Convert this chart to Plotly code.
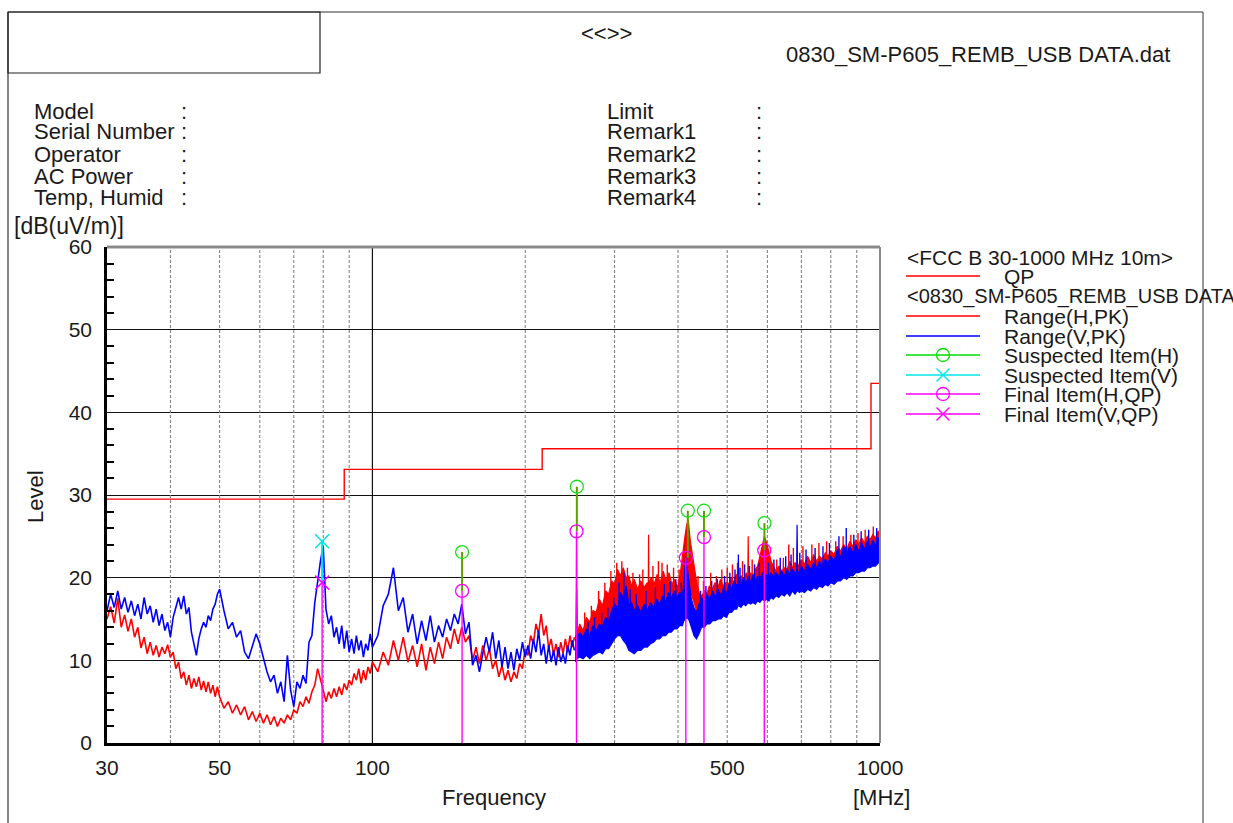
import math
import plotly.graph_objects as go

# ---------------- data ----------------
freq_lo = [30, 30.5, 31, 31.5, 32, 32.5, 33, 33.5, 34, 34.5, 35, 35.5, 36, 36.5, 37, 37.5, 38, 38.5, 39, 39.5,
           40, 40.5, 41, 41.5, 42, 42.5, 43, 43.5, 44, 44.5, 45, 45.5, 46, 46.5, 47, 47.5, 48, 48.5, 49, 49.5, 50,
           51, 52, 53, 54, 55, 56, 57, 58, 59, 60, 61, 62, 63, 64, 65, 66, 67, 68, 69, 70,
           71, 72, 73, 74, 75, 76, 77, 78, 79, 80, 81, 82, 83, 84, 85, 86, 87, 88, 89, 90,
           91, 92, 93, 94, 95, 96, 97, 98, 99, 100,
           102.5, 105, 107.5, 110, 112.5, 115, 117.5, 120, 122.5, 125, 127.5, 130, 132.5, 135, 137.5, 140,
           142.5, 145, 147.5, 150, 152.5, 155, 157.5, 160, 162.5, 165, 167.5, 170, 172.5, 175, 177.5, 180,
           182.5, 185, 187.5, 190, 192.5, 195, 197.5, 200, 202.5, 205, 207.5, 210, 212.5, 215, 217.5, 220,
           222.5, 225, 227.5, 230, 232.5, 235, 237.5, 240, 242.5, 245, 247.5, 250]

H_lo = [15.0, 16.5, 14.5, 17.5, 14.0, 15.5, 13.5, 15.0, 12.8, 14.0,
        11.5, 12.8, 10.8, 12.2, 10.6, 11.8, 10.4, 11.6, 10.8, 11.9,
        10.4, 11.0, 9.0, 9.8, 7.8, 8.6, 7.0, 8.2, 6.6, 7.8,
        6.8, 8.0, 6.4, 7.5, 6.2, 7.4, 6.0, 7.0, 5.6, 6.8,
        5.6,
        4.2, 5.0, 3.6, 4.6, 3.4, 4.4, 2.8, 3.8, 2.6, 3.6,
        2.4, 3.4, 2.2, 3.2, 2.0, 3.0, 2.4, 3.4, 2.8, 4.0,
        3.6, 5.0, 4.4, 5.6, 4.8, 6.2, 7.0, 9.0, 7.8, 6.4,
        5.0, 6.2, 5.4, 6.6, 5.6, 6.8, 5.8, 7.2, 6.4, 7.6,
        7.0, 8.4, 7.6, 9.0, 7.2, 8.8, 7.6, 9.2, 8.4, 9.8,
        8.6, 11.0, 9.4, 12.4, 10.0, 12.8, 9.8, 11.8, 9.2, 12.0,
        8.8, 11.6, 9.6, 12.2, 10.2, 12.8, 11.4, 13.8, 12.0, 14.0,
        12.2, 13.0, 10.0, 11.6, 9.6, 11.8, 10.0, 11.4, 9.0, 10.0,
        8.0, 9.4, 7.6, 8.8, 7.4, 8.6, 7.8, 9.6, 9.0, 11.4,
        10.6, 13.0, 12.0, 14.4, 13.2, 15.6, 13.0, 14.2, 11.4, 12.6,
        10.6, 12.0, 10.4, 12.2, 10.8, 12.6, 11.0, 13.0, 11.6, 12.8]

V_lo = [16.0, 18.0, 16.4, 18.4, 16.2, 17.6, 15.8, 17.2, 15.4, 16.8,
        15.0, 17.6, 15.6, 16.6, 14.6, 16.2, 14.2, 15.6, 13.6, 14.6,
        12.8, 15.2, 16.4, 17.6, 16.2, 17.8, 15.6, 16.4, 13.4, 12.0,
        10.6, 12.6, 13.8, 14.6, 14.0, 15.4, 14.8, 16.2, 16.8, 18.0,
        18.6,
        16.0, 13.8, 14.6, 12.8, 13.6, 11.0, 10.2, 11.8, 13.2, 12.0,
        10.4, 8.6, 7.4, 8.2, 6.0, 7.4, 5.0, 10.6, 6.4, 4.4,
        7.4, 6.6, 8.2, 7.2, 12.2, 13.0, 17.0, 19.8, 22.0, 23.8,
        16.2, 14.4, 15.4, 12.8, 14.0, 12.0, 14.2, 11.4, 13.6, 11.0,
        12.6, 10.8, 13.0, 11.2, 12.4, 10.4, 12.0, 11.2, 13.2, 11.6,
        13.0, 16.6, 18.0, 21.2, 16.0, 17.6, 13.4, 15.6, 12.0, 14.8,
        12.4, 15.4, 12.2, 14.2, 12.8, 15.0, 13.6, 15.6, 14.4, 16.8,
        13.2, 14.6, 9.4, 10.6, 8.6, 10.8, 12.8, 11.0, 13.4, 10.2,
        12.4, 9.2, 11.6, 9.0, 11.0, 8.8, 11.4, 10.0, 12.2, 10.4,
        11.8, 10.2, 12.6, 11.0, 13.6, 10.6, 12.0, 9.6, 11.8, 9.8,
        11.2, 9.4, 11.6, 9.8, 10.8, 9.6, 11.8, 10.6, 12.4, 11.2]

H_band_freq = [251, 252, 252.5, 253, 256, 260, 264, 268, 272, 276, 280, 284, 288, 292, 296, 300, 304, 308, 312, 316,
               320, 324, 328, 333, 338, 343, 348, 349.5, 350, 350.5, 354, 359, 364, 369, 374, 379, 384, 389, 394, 399,
               404, 408, 412, 416, 419, 423, 427, 431, 436, 441, 446, 451, 456, 461, 467, 473, 479, 485, 491, 497,
               503, 509, 515, 521, 527, 533, 539, 545, 549, 550, 551, 556, 562, 568, 574, 580, 586, 592, 598, 604,
               610, 616, 624, 632, 640, 648, 656, 664, 672, 680, 690, 700, 710, 720, 730, 740, 750, 760, 770, 780,
               790, 800, 812, 824, 836, 848, 860, 872, 884, 896, 908, 920, 932, 944, 956, 968, 980, 992, 1000]
H_band_hi = [12.6, 13.2, 25.5, 13.0, 14.4, 13.6, 15.2, 14.6, 16.0, 15.8, 17.4, 16.6, 18.4, 18.0, 19.6, 19.2, 21.0, 20.2, 21.2, 20.0,
             20.2, 19.0, 19.8, 18.6, 19.6, 18.8, 19.4, 18.8, 25.2, 19.0, 20.0, 19.2, 20.4, 19.4, 20.8, 19.6, 20.6, 19.2, 19.8, 18.8,
             20.4, 22.2, 24.6, 26.4, 27.0, 24.4, 22.6, 21.0, 19.2, 18.0, 17.8, 18.4, 18.0, 19.0, 18.6, 19.4, 18.8, 19.8, 19.0, 19.4,
             19.2, 20.0, 19.4, 20.4, 19.8, 20.2, 19.6, 20.6, 20.0, 25.0, 20.2, 20.6, 20.0, 21.0, 21.4, 22.6, 24.0, 25.0, 24.2, 23.0,
             22.0, 21.4, 20.8, 21.4, 20.8, 21.2, 21.0, 22.0, 21.2, 21.8, 21.4, 22.2, 21.6, 22.6, 21.8, 22.8, 22.0, 22.6, 22.2, 23.0,
             22.6, 23.2, 22.8, 23.8, 23.2, 24.0, 23.4, 24.4, 23.8, 24.6, 24.0, 24.8, 24.2, 25.0, 24.6, 25.2, 24.8, 25.6, 25.6]
H_band_lo = [10.0, 10.2, 10.4, 10.4, 10.8, 10.6, 11.0, 11.2, 11.8, 12.2, 12.8, 13.2, 14.0, 14.6, 15.2, 16.0, 16.8, 17.2, 17.2, 16.8,
             16.0, 15.4, 15.0, 14.8, 15.0, 14.8, 15.0, 15.0, 15.0, 15.2, 15.4, 15.2, 15.6, 15.6, 16.0, 16.0, 16.4, 16.2, 16.2, 16.4,
             16.8, 17.4, 17.8, 18.2, 18.6, 18.4, 17.6, 16.8, 15.8, 15.2, 15.0, 15.6, 15.6, 16.0, 16.2, 16.4, 16.6, 16.8, 17.0, 17.0,
             17.2, 17.4, 17.4, 17.6, 17.6, 17.8, 17.8, 18.0, 18.0, 18.0, 18.0, 18.0, 18.0, 18.2, 18.2, 18.4, 18.6, 18.8, 18.8, 18.8,
             18.8, 18.6, 18.6, 18.8, 18.8, 19.0, 19.0, 19.0, 19.0, 19.2, 19.2, 19.4, 19.4, 19.6, 19.8, 19.8, 20.0, 20.2, 20.2, 20.4,
             20.4, 20.6, 20.8, 21.0, 21.2, 21.4, 21.6, 21.8, 22.0, 22.0, 22.2, 22.4, 22.6, 22.8, 22.8, 23.0, 23.2, 23.4, 23.4]

H_spike_freq = [262, 270, 279, 287, 295, 303, 310, 318, 326, 336, 341, 357, 366, 372, 381, 392, 402, 438, 449, 464,
                476, 488, 500, 512, 524, 536, 560, 626, 645, 661, 675, 705, 734, 758, 785, 818, 846, 876, 905, 935, 970]
H_spike_top = [15.8, 16.6, 18.4, 19.4, 20.8, 21.8, 22.0, 21.2, 20.6, 20.4, 21.0, 21.4, 22.0, 21.8, 21.6, 21.2, 21.0, 20.2, 19.6, 20.6,
               20.2, 21.0, 21.2, 21.6, 21.8, 22.0, 22.2, 22.2, 22.4, 24.0, 23.6, 23.8, 24.0, 24.2, 24.4, 24.4, 25.0, 25.2, 25.4, 25.8, 26.2]
H_spike_base = [13.6, 14.6, 16.4, 17.6, 19.0, 19.8, 20.0, 19.4, 19.2, 18.8, 18.8, 19.2, 19.4, 19.4, 19.4, 19.0, 19.2, 17.8, 17.8, 18.4,
                18.6, 19.0, 19.2, 19.6, 19.6, 19.8, 20.2, 21.0, 21.0, 21.0, 21.2, 21.6, 21.6, 22.0, 22.4, 22.8, 23.2, 23.6, 24.0, 24.4, 24.8]

V_band_freq = [251, 252, 252.5, 253, 256, 260, 264, 268, 272, 276, 280, 284, 288, 292, 296, 300, 304, 308, 312, 316,
               320, 324, 328, 333, 338, 343, 348, 353, 358, 363, 368, 373, 378, 383, 388, 393, 398, 403, 408, 411,
               414, 417, 421, 425, 430, 435, 440, 445, 451, 456, 462, 468, 474, 480, 486, 492, 498, 504, 510, 516,
               522, 525, 526, 527, 532, 538, 544, 550, 556, 562, 568, 574, 580, 586, 592, 598, 604, 610, 616, 624,
               632, 640, 648, 656, 664, 672, 680, 685, 686.5, 688, 694, 700, 710, 720, 730, 740, 750, 760, 770, 780,
               790, 800, 812, 824, 836, 848, 860, 872, 884, 896, 908, 920, 932, 944, 956, 968, 980, 992, 1000]
V_band_hi = [12.4, 13.0, 18.6, 12.6, 13.4, 12.8, 13.8, 13.0, 14.2, 13.6, 14.4, 14.0, 15.2, 14.6, 16.0, 16.8, 16.4, 18.2, 17.6, 19.0,
             16.8, 17.0, 16.0, 16.6, 15.8, 16.8, 16.0, 17.0, 16.4, 17.4, 16.8, 17.8, 17.0, 18.2, 17.4, 18.4, 17.6, 18.2, 17.8, 19.4,
             22.6, 21.0, 19.0, 17.4, 16.4, 15.8, 16.8, 17.6, 17.0, 18.0, 17.4, 18.4, 17.6, 18.6, 17.8, 18.8, 18.0, 19.2, 18.6, 19.6,
             19.0, 19.4, 22.8, 19.2, 19.2, 20.0, 19.2, 20.2, 19.4, 20.4, 19.6, 20.2, 19.8, 20.6, 19.8, 20.4, 20.0, 20.6, 20.0, 20.6,
             20.2, 20.8, 20.2, 21.0, 20.4, 21.0, 20.6, 20.6, 26.4, 20.8, 20.6, 21.4, 20.8, 21.6, 21.0, 21.8, 21.2, 22.0, 21.4, 22.2,
             21.8, 22.6, 22.0, 23.4, 22.4, 23.8, 22.8, 23.8, 23.0, 24.0, 23.2, 24.2, 23.4, 24.4, 23.6, 24.6, 23.8, 24.8, 24.6]
V_band_lo = [9.8, 10.0, 10.2, 10.2, 10.4, 10.2, 10.6, 10.2, 10.6, 10.8, 11.0, 10.8, 11.4, 11.4, 12.0, 12.6, 13.0, 13.0, 12.4, 12.0,
             11.2, 11.0, 10.8, 11.2, 11.2, 11.6, 11.6, 12.0, 12.2, 12.6, 12.6, 13.0, 13.0, 13.4, 13.4, 13.8, 13.8, 14.2, 14.2, 14.8,
             15.0, 15.2, 14.8, 14.0, 13.0, 12.6, 13.2, 14.0, 14.0, 14.4, 14.4, 14.8, 14.8, 15.0, 15.0, 15.4, 15.2, 15.8, 15.8, 16.2,
             16.2, 16.6, 16.6, 16.6, 16.4, 16.8, 16.6, 17.0, 16.8, 17.0, 16.8, 17.2, 17.0, 17.4, 17.2, 17.4, 17.2, 17.6, 17.4, 17.8,
             17.6, 18.0, 17.8, 18.2, 17.8, 18.4, 18.0, 18.4, 18.4, 18.4, 18.2, 18.4, 18.2, 18.6, 18.4, 18.8, 18.6, 19.0, 18.8, 19.2,
             19.0, 19.4, 19.2, 19.6, 19.6, 20.0, 19.8, 20.2, 20.2, 20.6, 20.6, 20.8, 20.8, 21.2, 21.2, 21.4, 21.4, 21.8, 21.8]

V_spike_freq = [266, 274, 283, 291, 299, 306, 313, 322, 331, 346, 361, 376, 386, 396, 406, 443, 454, 466, 478, 494,
                506, 518, 530, 541, 553, 566, 578, 590, 603, 618, 636, 652, 668, 695, 715, 745, 772, 795, 830, 858,
                888, 918, 950, 985]
V_spike_top = [14.6, 15.2, 15.8, 16.4, 17.6, 19.4, 20.6, 18.6, 18.0, 18.4, 18.8, 19.2, 19.6, 19.8, 19.4, 18.4, 19.0, 19.6, 19.8, 20.2,
               20.6, 21.0, 21.2, 21.6, 21.4, 21.6, 21.8, 22.0, 21.8, 22.2, 22.4, 22.6, 22.8, 23.0, 23.4, 23.6, 23.8, 24.2, 25.0, 26.0,
               25.2, 25.6, 25.8, 26.0]
V_spike_base = [12.6, 13.2, 13.8, 14.4, 15.6, 16.6, 17.4, 16.2, 15.8, 16.0, 16.6, 17.0, 17.2, 17.4, 17.6, 16.6, 17.2, 17.6, 17.8, 18.2,
                18.4, 18.8, 19.0, 19.2, 19.2, 19.4, 19.6, 19.6, 19.8, 19.8, 20.2, 20.4, 20.4, 20.6, 20.8, 21.0, 21.2, 21.6, 22.2, 22.6,
                23.0, 23.2, 23.4, 23.8]

limit_freq = [30, 88, 216, 960, 1000]
limit_qp = [29.5, 33.1, 35.6, 43.5, 43.5]

susp_H_freq = [150.2, 252.8, 418.2, 450.0, 592.0]
susp_H_level = [23.1, 31.0, 28.1, 28.1, 26.6]
final_H_freq = [150.2, 252.4, 414.5, 450.0, 591.6]
final_H_level = [18.4, 25.6, 22.4, 24.9, 23.3]
susp_V_freq = [79.6]
susp_V_level = [24.4]
final_V_freq = [79.6]
final_V_level = [19.4]

x_tick_vals = [30, 50, 100, 500, 1000]
x_tick_text = ["30", "50", "100", "500", "1000"]
grid_dash_freq = [40, 50, 60, 70, 80, 90, 200, 300, 400, 500, 600, 700, 800, 900]
grid_solid_freq = [100]

for a, b in [(freq_lo, H_lo), (freq_lo, V_lo), (H_band_freq, H_band_hi), (H_band_freq, H_band_lo),
             (V_band_freq, V_band_hi), (V_band_freq, V_band_lo), (H_spike_freq, H_spike_top),
             (H_spike_freq, H_spike_base), (V_spike_freq, V_spike_top), (V_spike_freq, V_spike_base)]:
    assert len(a) == len(b), (len(a), len(b))

# ---------------- styling ----------------
FONT = "Liberation Sans"
TXT = "#1a1a1a"
RED = "#ff0000"
BLUE = "#0000ff"
GREEN = "#19e019"
GREEN_LINE = "#5ca000"
CYAN = "#00e5e5"
MAG = "#ff00ff"

W, H = 1233, 823
L, R, T, B = 107, 880, 247, 743


def PX(px):
    return (px - L) / (R - L)


def PY(py):
    return (B - py) / (B - T)


def vlines(freqs, lows, highs):
    xs, ys = [], []
    for f, lo, hi in zip(freqs, lows, highs):
        xs += [f, f, None]
        ys += [lo, hi, None]
    return xs, ys


fig = go.Figure()

# grid verticals
gx, gy = vlines(grid_dash_freq, [0] * len(grid_dash_freq), [60] * len(grid_dash_freq))
fig.add_trace(go.Scatter(x=gx, y=gy, mode="lines", line=dict(color="#777777", width=1, dash="3px,2px"),
                         showlegend=False, hoverinfo="skip"))
gx, gy = vlines(grid_solid_freq, [0], [60])
fig.add_trace(go.Scatter(x=gx, y=gy, mode="lines", line=dict(color="#111111", width=1.2),
                         showlegend=False, hoverinfo="skip"))

# H (red)
fig.add_trace(go.Scatter(x=freq_lo, y=H_lo, mode="lines", line=dict(color=RED, width=1.6), name="Range(H,PK)",
                         showlegend=False))
fig.add_trace(go.Scatter(x=H_band_freq, y=H_band_lo, mode="lines", line=dict(color=RED, width=1),
                         showlegend=False))
fig.add_trace(go.Scatter(x=H_band_freq, y=H_band_hi, mode="lines", line=dict(color=RED, width=1.2),
                         fill="tonexty", fillcolor=RED, showlegend=False))
hx, hy = vlines(H_spike_freq, H_spike_base, H_spike_top)
fig.add_trace(go.Scatter(x=hx, y=hy, mode="lines", line=dict(color=RED, width=1.4), showlegend=False))
# V (blue)
fig.add_trace(go.Scatter(x=freq_lo, y=V_lo, mode="lines", line=dict(color=BLUE, width=1.6), name="Range(V,PK)",
                         showlegend=False))
fig.add_trace(go.Scatter(x=V_band_freq, y=V_band_lo, mode="lines", line=dict(color=BLUE, width=1.2),
                         showlegend=False))
fig.add_trace(go.Scatter(x=V_band_freq, y=V_band_hi, mode="lines", line=dict(color=BLUE, width=1.2),
                         fill="tonexty", fillcolor=BLUE, showlegend=False))
vx, vy = vlines(V_spike_freq, V_spike_base, V_spike_top)
fig.add_trace(go.Scatter(x=vx, y=vy, mode="lines", line=dict(color=BLUE, width=1.4), showlegend=False))

# limit
fig.add_trace(go.Scatter(x=limit_freq, y=limit_qp, mode="lines", line=dict(color=RED, width=1.4, shape="hv"),
                         name="QP", showlegend=False))

# marker stems
sx, sy = vlines(susp_H_freq, final_H_level, susp_H_level)
fig.add_trace(go.Scatter(x=sx, y=sy, mode="lines", line=dict(color=GREEN_LINE, width=2), showlegend=False))
sx, sy = vlines(susp_V_freq, final_V_level, susp_V_level)
fig.add_trace(go.Scatter(x=sx, y=sy, mode="lines", line=dict(color=CYAN, width=2), showlegend=False))
fx, fy = vlines(final_H_freq + final_V_freq, [0] * (len(final_H_freq) + len(final_V_freq)),
                final_H_level + final_V_level)
fig.add_trace(go.Scatter(x=fx, y=fy, mode="lines", line=dict(color=MAG, width=1.4), showlegend=False))

# markers
fig.add_trace(go.Scatter(x=susp_H_freq, y=susp_H_level, mode="markers",
                         marker=dict(symbol="circle-open", size=13, color=GREEN, line=dict(width=1.3)),
                         showlegend=False))
fig.add_trace(go.Scatter(x=susp_V_freq, y=susp_V_level, mode="markers",
                         marker=dict(symbol="x-thin-open", size=14, color=CYAN, line=dict(width=1.5, color=CYAN)),
                         showlegend=False))
fig.add_trace(go.Scatter(x=final_H_freq, y=final_H_level, mode="markers",
                         marker=dict(symbol="circle-open", size=13, color=MAG, line=dict(width=1.3)),
                         showlegend=False))
fig.add_trace(go.Scatter(x=final_V_freq, y=final_V_level, mode="markers",
                         marker=dict(symbol="x-thin-open", size=14, color=MAG, line=dict(width=1.5, color=MAG)),
                         showlegend=False))

shapes = []
annotations = []


def hline(x0, x1, y, color, width):
    shapes.append(dict(type="line", xref="paper", yref="paper", x0=PX(x0), x1=PX(x1), y0=PY(y), y1=PY(y),
                       line=dict(color=color, width=width), layer="above"))


def vline(x, y0, y1, color, width):
    shapes.append(dict(type="line", xref="paper", yref="paper", x0=PX(x), x1=PX(x), y0=PY(y0), y1=PY(y1),
                       line=dict(color=color, width=width), layer="above"))


def text(s, x, y, size, xanchor="left", angle=0):
    annotations.append(dict(text=s, xref="paper", yref="paper", x=PX(x), y=PY(y), xanchor=xanchor,
                            yanchor="middle", showarrow=False, textangle=angle, borderpad=0,
                            font=dict(family=FONT, size=size, color=TXT)))


# page frame
vline(8, 12, 830, "#333333", 1.2)
vline(1203, 12, 830, "#555555", 1.2)
hline(8, 1203, 12, "#333333", 1.2)
shapes.append(dict(type="rect", xref="paper", yref="paper", x0=PX(8), x1=PX(320), y0=PY(73), y1=PY(12),
                   line=dict(color="#222222", width=1.2), layer="above"))
# plot frame
hline(107, 880, 247, "#8a8a8a", 3)
vline(880, 247, 743, "#8a8a8a", 2)

# header texts
text("&lt;&lt;&gt;&gt;", 606, 33, 22, "center")
text("0830_SM-P605_REMB_USB DATA.dat", 785, 55, 22)
left_labels = ["Model", "Serial Number", "Operator", "AC Power", "Temp, Humid"]
right_labels = ["Limit", "Remark1", "Remark2", "Remark3", "Remark4"]
rows = [111, 132, 154, 176, 197]
for lab, rl, yy in zip(left_labels, right_labels, rows):
    text(lab, 33, yy, 22)
    text(":", 184, yy, 22, "center")
    text(rl, 606, yy, 22)
    text(":", 759, yy, 22, "center")

# axis titles
text("[dB(uV/m)]", 13, 226, 23)
text("Level", 35, 497, 22, "center", angle=-90)
text("Frequency", 494, 797, 22, "center")
text("[MHz]", 881, 797, 22, "center")

# custom legend
LEG_X0, LEG_X1, LEG_MX, LEG_TX = 906, 980, 943, 1003
text("&lt;FCC B 30-1000 MHz 10m&gt;", 906, 257, 21)
legend_rows = [
    (276, "QP", RED, None),
    (316, "Range(H,PK)", RED, None),
    (336, "Range(V,PK)", BLUE, None),
    (355, "Suspected Item(H)", "#00dd00", "o"),
    (375, "Suspected Item(V)", CYAN, "x"),
    (394, "Final Item(H,QP)", MAG, "o"),
    (414, "Final Item(V,QP)", MAG, "x"),
]
text("&lt;0830_SM-P605_REMB_USB DATA.dat&gt;", 906, 296, 20)
for yy, lab, col, sym in legend_rows:
    hline(LEG_X0, LEG_X1, yy, col, 1.4)
    text(lab, LEG_TX, yy, 21)
    if sym == "o":
        shapes.append(dict(type="circle", xref="paper", yref="paper", xsizemode="pixel", ysizemode="pixel",
                           xanchor=PX(LEG_MX), yanchor=PY(yy), x0=-6.5, x1=6.5, y0=-6.5, y1=6.5,
                           line=dict(color=col, width=1.3), layer="above"))
    elif sym == "x":
        for a, b in [(-6.5, 6.5), (6.5, -6.5)]:
            shapes.append(dict(type="line", xref="paper", yref="paper", xsizemode="pixel", ysizemode="pixel",
                               xanchor=PX(LEG_MX), yanchor=PY(yy), x0=-6.5, x1=6.5, y0=a, y1=b,
                               line=dict(color=col, width=1.4), layer="above"))

fig.update_layout(
    width=W, height=H,
    margin=dict(l=L, r=W - R, t=T, b=H - B, pad=0),
    paper_bgcolor="white", plot_bgcolor="white",
    showlegend=False, hovermode=False,
    shapes=shapes, annotations=annotations,
    font=dict(family=FONT, color=TXT),
)
fig.update_xaxes(type="log", range=[math.log10(30), math.log10(1000)], tickvals=x_tick_vals,
                 ticktext=x_tick_text, ticks="", showgrid=False, zeroline=False,
                 showline=True, linecolor="black", linewidth=2.5,
                 tickfont=dict(family=FONT, size=21, color=TXT), ticklabelstandoff=4)
fig.update_yaxes(range=[0, 60], dtick=10, tick0=0, ticks="", showgrid=True, gridcolor="#111111",
                 gridwidth=1, zeroline=False, showline=True, linecolor="black", linewidth=2.5,
                 tickfont=dict(family=FONT, size=21, color=TXT), ticklabelstandoff=8,
                 minor=dict(dtick=2, tick0=0, ticks="inside", ticklen=7, tickwidth=1.5, tickcolor="black",
                            showgrid=False))

fig.write_html("out.html", config={"displayModeBar": False},
               post_script="document.body.style.margin='0px';")
